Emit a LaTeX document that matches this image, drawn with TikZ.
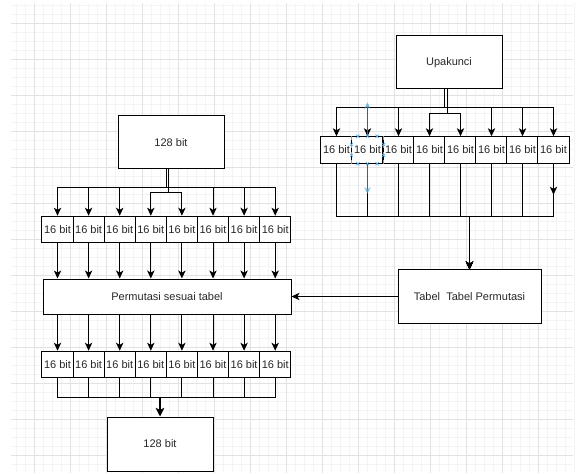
\documentclass[tikz,border=0pt]{standalone}
\usepackage{fontspec}
\setmainfont{Liberation Sans}
\usetikzlibrary{arrows.meta,calc}
\definecolor{gridminor}{RGB}{244,244,244}
\definecolor{gridmajor}{RGB}{226,226,226}
\definecolor{txt}{RGB}{40,40,40}
\definecolor{selblue}{RGB}{90,170,225}
\tikzset{
  box/.style={draw=black, line width=0.75pt, fill=white, inner sep=0pt, text=txt,
    font=\fontsize{8.25}{10}\selectfont},
  bitbox/.style={box, minimum width=23.3pt, minimum height=19.9pt},
  bigbox/.style={box, minimum width=79.5pt, minimum height=39.75pt},
  wire/.style={draw=black, line width=0.75pt},
  arr/.style={wire, -{Stealth[length=6pt, width=5.5pt, inset=1.6pt]}},
  thickarr/.style={draw=black, line width=1.6pt, -{Stealth[length=6.5pt, width=6.5pt, inset=1.6pt]}},
  selarr/.style={draw=selblue, line width=0.9pt, opacity=0.6, -{Stealth[length=5pt, width=5pt]}},
}
\newcommand\selx[1]{\draw[selblue, line width=0.5pt] ($(#1)+(-1.6,-1.6)$) -- ($(#1)+(1.6,1.6)$) ($(#1)+(-1.6,1.6)$) -- ($(#1)+(1.6,-1.6)$);}
\begin{document}
\begin{tikzpicture}[x=0.75pt, y=-0.75pt]
\useasboundingbox (0,0) rectangle (580,473);
\fill[white] (0,0) rectangle (580,473);
% grid
\foreach \k in {0,...,62} {\draw[gridminor, line width=0.4pt] ({16.3+9*\k},3) -- ({16.3+9*\k},473);}
\foreach \k in {0,...,52} {\draw[gridminor, line width=0.4pt] (11,{5.3+9*\k}) -- (573,{5.3+9*\k});}
\foreach \k in {0,...,14} {\draw[gridmajor, line width=0.5pt] ({34.3+36*\k},3) -- ({34.3+36*\k},473);}
\foreach \k in {0,...,12} {\draw[gridmajor, line width=0.5pt] (11,{23.3+36*\k}) -- (573,{23.3+36*\k});}

% nodes
\node[bigbox] (upak) at (449,62.5) {Upakunci};
\node[bigbox] (in128) at (171,142.5) {128 bit};
\foreach \i in {1,...,8} {
  \node[bitbox] (r\i) at ({336.5+31*(\i-1)},150) {16 bit};
  \node[bitbox] (a\i) at ({57.5+31.1*(\i-1)},229.5) {16 bit};
  \node[bitbox] (b\i) at ({57.5+31.1*(\i-1)},364.5) {16 bit};
}
\node[box, minimum width=186pt, minimum height=26.25pt] (perm) at (167,296.5) {Permutasi sesuai tabel};
\node[box, minimum width=107.25pt, minimum height=39.75pt] (tab) at (469.5,296.5) {Tabel\ \ Tabel Permutasi};
\node[box, minimum width=79.5pt, minimum height=40.5pt] (out128) at (160,444) {128 bit};

% right group: Upakunci -> 16 bit boxes
\foreach \i in {1,2,3,6,7,8} {\draw[arr] ([xshift=-3.5pt]upak.south) -- ++(0,18) -| (r\i.north);}
\foreach \i in {4,5} {\draw[arr] ([xshift=-1.5pt]upak.south) -- ++(0,24) -| (r\i.north);}
% right group: boxes -> Tabel
\foreach \i in {1,...,8} {\draw[arr] (r\i.south) -- ++(0,53) -| (tab.north);}
\draw[arr] (r8.south) -- ++(0,31);
% Tabel -> Permutasi
\draw[arr] (tab.west) -- (perm.east);

% left group: 128 bit -> 16 bit boxes
\foreach \i in {1,2,3,6,7,8} {\draw[arr] ([xshift=-3.75pt]in128.south) -- ++(0,18) -| (a\i.north);}
\foreach \i in {4,5} {\draw[arr] ([xshift=-1.7pt]in128.south) -- ++(0,23) -| (a\i.north);}
% 16 bit -> Permutasi
\foreach \i in {1,...,8} {\draw[arr] (a\i.south) -- (a\i.south |- perm.north);}
% Permutasi -> 16 bit
\foreach \i in {1,...,8} {\draw[arr] (b\i.north |- perm.south) -- (b\i.north);}
% 16 bit -> 128 bit
\foreach \i in {1,...,8} {\draw[wire] (b\i.south) -- ++(0,19) -| ([yshift=15pt]out128.north);}
\draw[thickarr] ([yshift=15pt]out128.north) -- (out128.north);

% selection marks on second right box
\draw[selarr] (r2.north) -- ++(0,-34);
\draw[selarr] (r2.south) -- ++(0,30);
\draw[line width=1.2pt] (r2.north west) -- (r2.south west) (r2.north east) -- (r2.south east);
\draw[selblue, dashed, line width=0.6pt] (r2.north west) -- (r2.south west) (r2.north east) -- (r2.south east);
\foreach \f in {0.2,0.5,0.8} {
  \selx{$(r2.north west)!\f!(r2.north east)$}
  \selx{$(r2.south west)!\f!(r2.south east)$}
}
\foreach \f in {0.3,0.7} {
  \selx{$(r2.north west)!\f!(r2.south west)$}
  \selx{$(r2.north east)!\f!(r2.south east)$}
}
\end{tikzpicture}
\end{document}
